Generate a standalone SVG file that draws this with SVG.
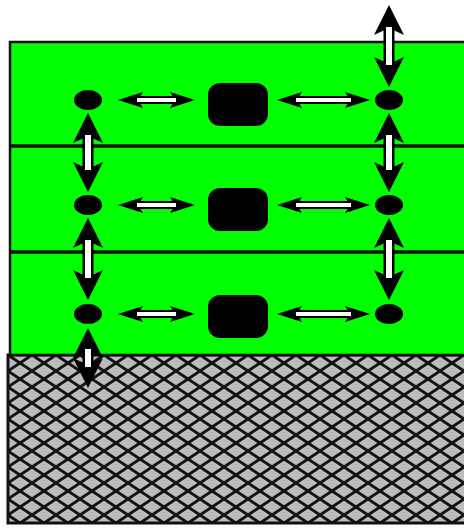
<svg xmlns="http://www.w3.org/2000/svg" width="464" height="529" viewBox="0 0 464 529">
  <defs>
    <style>
      .layer { fill: #00ff00; stroke: #111; stroke-width: 2.5; }
      .sep { stroke: #111; stroke-width: 3.5; }
      .dot { fill: #000; }
      .box { fill: #000; }
      .hs { stroke: #000; stroke-width: 8; fill: none; marker-start: url(#hh); marker-end: url(#hh); }
      .hw { stroke: #fff; stroke-width: 4; fill: none; }
      .vs { stroke: #000; stroke-width: 11; fill: none; marker-start: url(#vh); marker-end: url(#vh); }
      .vw { stroke: #fff; stroke-width: 6; fill: none; }
    </style>
    <marker id="hh" markerUnits="userSpaceOnUse" markerWidth="30" markerHeight="20" viewBox="0 -10 30 20" refX="5" refY="0" orient="auto-start-reverse">
      <path d="M0,-8 L25,0 L0,8 L5,0 z" fill="#000"/>
    </marker>
    <marker id="vh" markerUnits="userSpaceOnUse" markerWidth="34" markerHeight="34" viewBox="0 -17 34 34" refX="7" refY="0" orient="auto-start-reverse">
      <path d="M0,-15 L30,0 L0,15 L7,0 z" fill="#000"/>
    </marker>
    <pattern id="hatch" patternUnits="userSpaceOnUse" x="8" y="355" width="24" height="16">
      <rect width="24" height="16" fill="#bcbcbc"/>
      <g stroke="#111" stroke-width="2.8">
        <path d="M-1,-16.67 L25,0.67 M-1,-0.67 L25,16.67 M-1,15.33 L25,32.67"/>
        <path d="M-1,0.67 L25,-16.67 M-1,16.67 L25,-0.67 M-1,32.67 L25,15.33"/>
      </g>
    </pattern>
  </defs>

  <g id="ground">
    <rect x="8" y="355" width="460" height="168" fill="url(#hatch)" stroke="#111" stroke-width="3"/>
  </g>

  <g id="layers">
    <rect id="layer-stack" class="layer" x="10" y="42" width="460" height="313"/>
    <line class="sep" x1="10" y1="146" x2="464" y2="146"/>
    <line class="sep" x1="10" y1="252" x2="464" y2="252"/>
  </g>

  <g id="connectors">
    <line class="hs" x1="138" y1="100" x2="175" y2="100"/><line class="hw" x1="137" y1="100" x2="176" y2="100"/>
    <line class="hs" x1="297" y1="100" x2="350" y2="100"/><line class="hw" x1="296" y1="100" x2="351" y2="100"/>
    <line class="hs" x1="138" y1="205" x2="175" y2="205"/><line class="hw" x1="137" y1="205" x2="176" y2="205"/>
    <line class="hs" x1="297" y1="205" x2="350" y2="205"/><line class="hw" x1="296" y1="205" x2="351" y2="205"/>
    <line class="hs" x1="138" y1="314" x2="175" y2="314"/><line class="hw" x1="137" y1="314" x2="176" y2="314"/>
    <line class="hs" x1="297" y1="314" x2="350" y2="314"/><line class="hw" x1="296" y1="314" x2="351" y2="314"/>
    <line class="vs" x1="389" y1="28" x2="389" y2="64"/><line class="vw" x1="389" y1="27" x2="389" y2="65"/>
    <line class="vs" x1="88" y1="136" x2="88" y2="169"/><line class="vw" x1="88" y1="135" x2="88" y2="170"/>
    <line class="vs" x1="389" y1="136" x2="389" y2="169"/><line class="vw" x1="389" y1="135" x2="389" y2="170"/>
    <line class="vs" x1="88" y1="241" x2="88" y2="277"/><line class="vw" x1="88" y1="240" x2="88" y2="278"/>
    <line class="vs" x1="389" y1="241" x2="389" y2="277"/><line class="vw" x1="389" y1="240" x2="389" y2="278"/>
    <line class="vs" x1="88" y1="351" x2="88" y2="365"/><line class="vw" x1="88" y1="349" x2="88" y2="367"/>
  </g>

  <g id="row1">
    <ellipse id="dot-1l" class="dot" cx="88" cy="100" rx="14" ry="10"/>
    <rect id="box-1" class="box" x="208" y="83" width="60" height="43" rx="12"/>
    <ellipse id="dot-1r" class="dot" cx="389" cy="100" rx="14" ry="10"/>
  </g>
  <g id="row2">
    <ellipse id="dot-2l" class="dot" cx="88" cy="205" rx="14" ry="10"/>
    <rect id="box-2" class="box" x="208" y="188" width="60" height="43" rx="12"/>
    <ellipse id="dot-2r" class="dot" cx="389" cy="205" rx="14" ry="10"/>
  </g>
  <g id="row3">
    <ellipse id="dot-3l" class="dot" cx="88" cy="314" rx="14" ry="10"/>
    <rect id="box-3" class="box" x="208" y="295" width="60" height="43" rx="12"/>
    <ellipse id="dot-3r" class="dot" cx="389" cy="314" rx="14" ry="10"/>
  </g>
</svg>
